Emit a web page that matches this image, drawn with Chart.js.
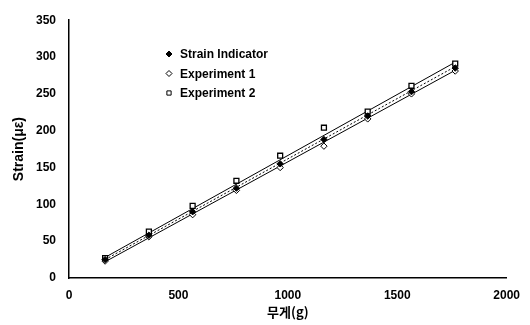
<!DOCTYPE html>
<html>
<head>
<meta charset="utf-8">
<script src="https://cdn.jsdelivr.net/npm/chart.js@4.4.0/dist/chart.umd.min.js"></script>
<style>
  html, body { margin: 0; padding: 0; background: #fff; }
</style>
</head>
<body>
<canvas id="myChart" width="530" height="325"></canvas>
<script>
// 하중 (g)
const weights = [165, 365, 565, 765, 965, 1165, 1365, 1565, 1765];
// 측정값 (με)
const strainIndicator = [25, 58, 90, 122, 155, 188, 220, 253, 285];
const experiment1 = [23, 56, 86, 119, 150, 179, 216, 250, 281];
const experiment2 = [27, 63, 98, 132, 166, 204, 226, 261, 291];
// 추세선 양 끝
const trendX = [165, 1765];
const trendSI = [25, 287];
const trendE1 = [22, 282];
const trendE2 = [28, 293];
const xTicks = [0, 500, 1000, 1500, 2000];
const yTicks = [0, 50, 100, 150, 200, 250, 300, 350];

const toPoints = (xs, ys) => xs.map((x, i) => ({ x: x, y: ys[i] }));

const ink = "#000";
const font = "'Liberation Sans', Arial, sans-serif";

// 범례를 그래프 안에 직접 그림
const innerLegend = {
  id: "innerLegend",
  afterDraw(chart) {
    const ctx = chart.ctx;
    const items = [
      { text: "Strain Indicator", style: "rectRot", fill: ink },
      { text: "Experiment 1", style: "rectRot", fill: "#fff" },
      { text: "Experiment 2", style: "rect", fill: "#fff" },
    ];
    ctx.save();
    ctx.font = "bold 12px " + font;
    ctx.textBaseline = "middle";
    items.forEach((it, i) => {
      const y = 54 + i * 19.5;
      ctx.fillStyle = it.fill;
      ctx.strokeStyle = ink;
      ctx.lineWidth = 1;
      Chart.helpers.drawPoint(ctx, { pointStyle: it.style, radius: 3, borderWidth: 1 }, 169, y);
      ctx.fillStyle = ink;
      ctx.fillText(it.text, 180, y + 1);
    });
    ctx.restore();
  },
};

const ctx = document.getElementById("myChart").getContext("2d");

const config = {
  type: "scatter",
  data: {
    datasets: [
      {
        label: "Strain Indicator",
        data: toPoints(weights, strainIndicator),
        pointStyle: "rectRot",
        pointRadius: 3.2,
        backgroundColor: ink,
        borderColor: ink,
        borderWidth: 1,
      },
      {
        label: "Experiment 1",
        data: toPoints(weights, experiment1),
        pointStyle: "rectRot",
        pointRadius: 3.2,
        backgroundColor: "#fff",
        borderColor: ink,
        borderWidth: 1,
      },
      {
        label: "Experiment 2",
        data: toPoints(weights, experiment2),
        pointStyle: "rect",
        pointRadius: 3.5,
        backgroundColor: "#fff",
        borderColor: ink,
        borderWidth: 1.3,
      },
      {
        label: "trend SI",
        data: toPoints(trendX, trendSI),
        showLine: true,
        pointRadius: 0,
        borderColor: ink,
        borderWidth: 1,
        borderDash: [2, 2],
        order: 5,
      },
      {
        label: "trend E1",
        data: toPoints(trendX, trendE1),
        showLine: true,
        pointRadius: 0,
        borderColor: ink,
        borderWidth: 1,
        order: 5,
      },
      {
        label: "trend E2",
        data: toPoints(trendX, trendE2),
        showLine: true,
        pointRadius: 0,
        borderColor: ink,
        borderWidth: 1,
        order: 5,
      },
    ],
  },
  options: {
    responsive: false,
    animation: false,
    layout: { padding: { top: 12, right: 22, left: 0, bottom: 0 } },
    plugins: {
      legend: { display: false },
      tooltip: { enabled: false },
    },
    scales: {
      x: {
        type: "linear",
        min: 0,
        max: 2000,
        afterBuildTicks: (s) => { s.ticks = xTicks.map((v) => ({ value: v })); },
        afterFit: (s) => { s.height = 47; },
        grid: { display: false, drawTicks: false },
        border: { display: true, color: ink, width: 1.5 },
        ticks: {
          color: ink,
          padding: 10,
          maxRotation: 0,
          callback: (v) => String(v), // sin separador de miles
          font: { family: font, size: 12, weight: "bold" },
        },
        title: {
          display: true,
          text: "무게(g)",
          color: ink,
          padding: { top: 4, bottom: 5 },
          font: { family: "'Noto Sans CJK KR', " + font, size: 13, weight: "bold" },
        },
      },
      y: {
        type: "linear",
        min: 0,
        max: 350,
        afterBuildTicks: (s) => { s.ticks = yTicks.map((v) => ({ value: v })); },
        afterFit: (s) => { s.width = 69; },
        grid: { display: false, drawTicks: false },
        border: { display: true, color: ink, width: 1.5 },
        ticks: {
          color: ink,
          padding: 13,
          font: { family: font, size: 12, weight: "bold" },
        },
        title: {
          display: true,
          text: "Strain(με)",
          color: ink,
          padding: { top: 11, bottom: 4 },
          font: { family: font, size: 14, weight: "bold" },
        },
      },
    },
  },
  plugins: [innerLegend],
};

const myChart = new Chart(ctx, config);
</script>
</body>
</html>
